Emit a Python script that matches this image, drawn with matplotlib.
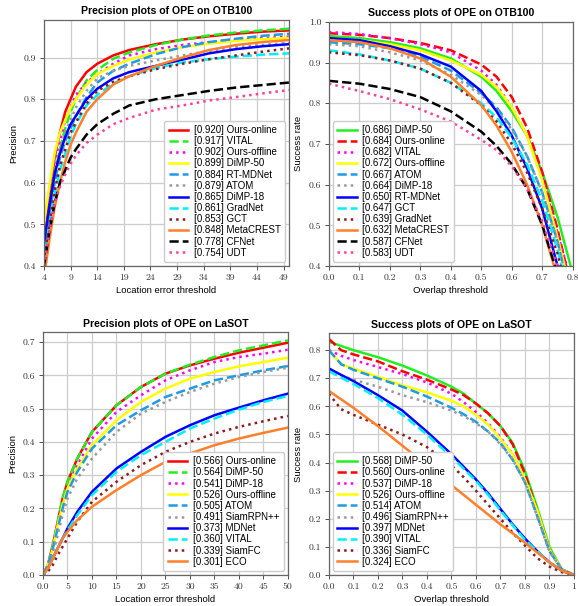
import numpy as np
import matplotlib
matplotlib.use("Agg")
import matplotlib.pyplot as plt
from matplotlib.ticker import FuncFormatter

# ---- OTB100 precision ----
otb_prec_x = [4, 5, 6, 7, 8, 9, 10, 12, 14, 17, 20, 25, 30, 35, 40, 45, 50]
otb_prec_names = ['Ours-online', 'VITAL', 'Ours-offline', 'DiMP-50', 'RT-MDNet', 'ATOM',
                  'DiMP-18', 'GradNet', 'GCT', 'MetaCREST', 'CFNet', 'UDT']
otb_prec_scores = [0.920, 0.917, 0.902, 0.899, 0.884, 0.879, 0.865, 0.861, 0.853, 0.848, 0.778, 0.754]
otb_prec_vals = [
    [0.45, 0.56, 0.66, 0.72, 0.77, 0.80, 0.83, 0.865, 0.885, 0.905, 0.918, 0.932, 0.943, 0.951, 0.957, 0.962, 0.965],
    [0.43, 0.53, 0.62, 0.68, 0.73, 0.77, 0.80, 0.845, 0.870, 0.897, 0.912, 0.930, 0.943, 0.953, 0.960, 0.965, 0.969],
    [0.44, 0.55, 0.64, 0.70, 0.75, 0.78, 0.81, 0.84, 0.860, 0.885, 0.905, 0.920, 0.930, 0.937, 0.943, 0.947, 0.950],
    [0.50, 0.59, 0.67, 0.72, 0.75, 0.78, 0.80, 0.835, 0.860, 0.880, 0.895, 0.912, 0.925, 0.933, 0.940, 0.944, 0.947],
    [0.42, 0.52, 0.60, 0.66, 0.70, 0.73, 0.76, 0.805, 0.840, 0.868, 0.885, 0.908, 0.925, 0.937, 0.945, 0.952, 0.957],
    [0.44, 0.55, 0.63, 0.68, 0.72, 0.75, 0.78, 0.82, 0.850, 0.868, 0.880, 0.893, 0.905, 0.916, 0.925, 0.930, 0.935],
    [0.45, 0.54, 0.62, 0.67, 0.71, 0.74, 0.76, 0.80, 0.825, 0.850, 0.865, 0.880, 0.895, 0.910, 0.920, 0.927, 0.932],
    [0.41, 0.50, 0.57, 0.63, 0.67, 0.71, 0.74, 0.785, 0.810, 0.838, 0.855, 0.875, 0.888, 0.896, 0.902, 0.907, 0.910],
    [0.41, 0.50, 0.58, 0.64, 0.68, 0.72, 0.745, 0.79, 0.820, 0.842, 0.855, 0.872, 0.885, 0.896, 0.905, 0.914, 0.922],
    [0.37, 0.46, 0.54, 0.60, 0.65, 0.69, 0.72, 0.77, 0.800, 0.835, 0.855, 0.880, 0.900, 0.918, 0.930, 0.937, 0.942],
    [0.40, 0.48, 0.55, 0.60, 0.63, 0.66, 0.68, 0.715, 0.740, 0.765, 0.785, 0.800, 0.810, 0.820, 0.828, 0.834, 0.840],
    [0.40, 0.48, 0.55, 0.59, 0.62, 0.645, 0.665, 0.695, 0.715, 0.740, 0.755, 0.775, 0.785, 0.797, 0.805, 0.814, 0.822],
]

# ---- OTB100 success ----
otb_succ_x = [0.0, 0.1, 0.2, 0.3, 0.4, 0.5, 0.55, 0.6, 0.65, 0.7, 0.75, 0.8]
otb_succ_names = ['DiMP-50', 'Ours-online', 'VITAL', 'Ours-offline', 'ATOM', 'DiMP-18',
                  'RT-MDNet', 'GCT', 'GradNet', 'MetaCREST', 'CFNet', 'UDT']
otb_succ_scores = [0.686, 0.684, 0.682, 0.672, 0.667, 0.664, 0.650, 0.647, 0.639, 0.632, 0.587, 0.583]
otb_succ_vals = [
    [0.965, 0.960, 0.950, 0.935, 0.910, 0.865, 0.830, 0.780, 0.720, 0.630, 0.520, 0.380],
    [0.972, 0.968, 0.960, 0.948, 0.930, 0.895, 0.865, 0.815, 0.740, 0.630, 0.490, 0.330],
    [0.975, 0.970, 0.960, 0.945, 0.925, 0.880, 0.845, 0.790, 0.720, 0.620, 0.480, 0.350],
    [0.960, 0.955, 0.945, 0.930, 0.905, 0.870, 0.840, 0.790, 0.720, 0.610, 0.470, 0.320],
    [0.950, 0.945, 0.935, 0.915, 0.880, 0.825, 0.790, 0.740, 0.670, 0.580, 0.460, 0.300],
    [0.945, 0.940, 0.925, 0.905, 0.870, 0.820, 0.785, 0.735, 0.670, 0.580, 0.460, 0.300],
    [0.960, 0.955, 0.940, 0.920, 0.890, 0.830, 0.780, 0.720, 0.640, 0.540, 0.400, 0.250],
    [0.930, 0.920, 0.905, 0.885, 0.850, 0.800, 0.765, 0.715, 0.650, 0.560, 0.440, 0.290],
    [0.925, 0.918, 0.905, 0.885, 0.850, 0.795, 0.755, 0.700, 0.630, 0.540, 0.430, 0.280],
    [0.955, 0.950, 0.935, 0.910, 0.865, 0.795, 0.745, 0.680, 0.600, 0.500, 0.370, 0.230],
    [0.855, 0.848, 0.835, 0.815, 0.780, 0.730, 0.695, 0.650, 0.590, 0.500, 0.380, 0.240],
    [0.848, 0.830, 0.810, 0.785, 0.755, 0.710, 0.685, 0.645, 0.590, 0.510, 0.400, 0.280],
]

# ---- LaSOT precision ----
lasot_prec_x = [0, 1, 2, 3, 4, 5, 7, 10, 15, 20, 25, 30, 35, 40, 45, 50]
lasot_prec_names = ['Ours-online', 'DiMP-50', 'DiMP-18', 'Ours-offline', 'ATOM', 'SiamRPN++',
                    'MDNet', 'VITAL', 'SiamFC', 'ECO']
lasot_prec_scores = [0.566, 0.564, 0.541, 0.526, 0.505, 0.491, 0.373, 0.360, 0.339, 0.301]
lasot_prec_vals = [
    [0.0, 0.03, 0.09, 0.16, 0.23, 0.28, 0.35, 0.43, 0.51, 0.565, 0.605, 0.630, 0.650, 0.668, 0.683, 0.698],
    [0.0, 0.03, 0.09, 0.16, 0.23, 0.28, 0.35, 0.43, 0.51, 0.565, 0.605, 0.632, 0.655, 0.675, 0.690, 0.705],
    [0.0, 0.03, 0.08, 0.15, 0.21, 0.26, 0.33, 0.41, 0.49, 0.540, 0.585, 0.615, 0.640, 0.655, 0.665, 0.677],
    [0.0, 0.03, 0.08, 0.15, 0.21, 0.26, 0.32, 0.39, 0.465, 0.520, 0.560, 0.590, 0.610, 0.627, 0.640, 0.653],
    [0.0, 0.03, 0.08, 0.14, 0.20, 0.25, 0.31, 0.38, 0.45, 0.495, 0.535, 0.560, 0.585, 0.600, 0.615, 0.628],
    [0.0, 0.02, 0.06, 0.12, 0.18, 0.23, 0.29, 0.35, 0.43, 0.485, 0.520, 0.550, 0.575, 0.595, 0.610, 0.623],
    [0.0, 0.02, 0.05, 0.08, 0.11, 0.14, 0.19, 0.25, 0.32, 0.370, 0.415, 0.450, 0.480, 0.503, 0.525, 0.545],
    [0.0, 0.02, 0.05, 0.08, 0.11, 0.135, 0.18, 0.24, 0.31, 0.360, 0.400, 0.440, 0.470, 0.497, 0.520, 0.538],
    [0.0, 0.01, 0.03, 0.06, 0.085, 0.11, 0.16, 0.22, 0.28, 0.330, 0.370, 0.400, 0.425, 0.445, 0.462, 0.478],
    [0.0, 0.02, 0.05, 0.08, 0.11, 0.13, 0.165, 0.205, 0.255, 0.300, 0.340, 0.365, 0.390, 0.410, 0.427, 0.443],
]

# ---- LaSOT success ----
lasot_succ_x = [0.0, 0.05, 0.1, 0.2, 0.3, 0.4, 0.5, 0.55, 0.6, 0.65, 0.7, 0.75, 0.8, 0.85, 0.9, 0.95, 1.0]
lasot_succ_names = ['DiMP-50', 'Ours-online', 'DiMP-18', 'Ours-offline', 'ATOM', 'SiamRPN++',
                    'MDNet', 'VITAL', 'SiamFC', 'ECO']
lasot_succ_scores = [0.568, 0.560, 0.537, 0.526, 0.514, 0.496, 0.397, 0.390, 0.336, 0.324]
lasot_succ_vals = [
    [0.83, 0.815, 0.800, 0.775, 0.745, 0.710, 0.670, 0.645, 0.610, 0.575, 0.530, 0.470, 0.370, 0.240, 0.100, 0.020, 0.0],
    [0.84, 0.800, 0.785, 0.760, 0.725, 0.695, 0.660, 0.640, 0.610, 0.575, 0.530, 0.465, 0.360, 0.230, 0.090, 0.020, 0.0],
    [0.80, 0.780, 0.765, 0.740, 0.715, 0.685, 0.645, 0.615, 0.580, 0.540, 0.490, 0.430, 0.340, 0.210, 0.085, 0.020, 0.0],
    [0.80, 0.750, 0.735, 0.705, 0.675, 0.650, 0.620, 0.600, 0.570, 0.535, 0.485, 0.430, 0.340, 0.230, 0.090, 0.020, 0.0],
    [0.80, 0.750, 0.730, 0.700, 0.670, 0.635, 0.595, 0.572, 0.545, 0.510, 0.470, 0.410, 0.330, 0.210, 0.085, 0.020, 0.0],
    [0.73, 0.710, 0.695, 0.670, 0.640, 0.615, 0.585, 0.565, 0.540, 0.510, 0.465, 0.410, 0.330, 0.210, 0.085, 0.020, 0.0],
    [0.735, 0.712, 0.690, 0.640, 0.585, 0.510, 0.430, 0.385, 0.340, 0.290, 0.235, 0.180, 0.130, 0.085, 0.045, 0.015, 0.0],
    [0.725, 0.702, 0.680, 0.630, 0.570, 0.500, 0.420, 0.378, 0.335, 0.285, 0.230, 0.177, 0.125, 0.085, 0.045, 0.015, 0.0],
    [0.645, 0.590, 0.570, 0.535, 0.500, 0.455, 0.390, 0.348, 0.300, 0.250, 0.200, 0.150, 0.105, 0.060, 0.030, 0.010, 0.0],
    [0.655, 0.625, 0.595, 0.530, 0.460, 0.390, 0.320, 0.285, 0.250, 0.215, 0.180, 0.148, 0.115, 0.080, 0.045, 0.015, 0.0],
]

# styles by legend rank
prec_colors = ['#ff0000', '#22ee22', '#ff00ff', '#ffff00', '#1e9be6', '#999999',
               '#0000ff', '#00eeff', '#8b1a1a', '#ff7f2a', '#000000', '#ff3f9a']
succ_colors = ['#22ee22', '#ff0000'] + prec_colors[2:]
rank_styles = ['-', '--', ':'] * 4

plt.rcParams['font.family'] = ['Liberation Sans', 'DejaVu Sans']
plt.rcParams['axes.formatter.use_mathtext'] = True


def num_fmt(v, pos):
    if abs(v - round(v)) < 1e-9 and abs(v) >= 1:
        return '%d' % round(v)
    return '%.1f' % v


def panel(ax, x, names, scores, vals, colors, title, xlabel, ylabel, loc):
    for i, (n, s, y) in enumerate(zip(names, scores, vals)):
        ax.plot(x, y, color=colors[i], linestyle=rank_styles[i], lw=1.8,
                label='[%.3f] %s' % (s, n))
    ax.set_title(title, fontsize=7.6, fontweight='bold', pad=4)
    ax.set_xlabel(xlabel, fontsize=6.8, labelpad=3)
    ax.set_ylabel(ylabel, fontsize=6.8, labelpad=4)
    ax.grid(True, color='#cccccc', lw=0.9)
    ax.set_axisbelow(True)
    ax.xaxis.set_major_formatter(FuncFormatter(num_fmt))
    ax.yaxis.set_major_formatter(FuncFormatter(num_fmt))
    ax.tick_params(labelsize=7, length=3, width=0.6, colors='#333333', pad=2.5)
    for sp in ax.spines.values():
        sp.set_color('#666666')
        sp.set_linewidth(0.9)
    leg = ax.legend(loc=loc, fontsize=7.0, labelspacing=0.12, handlelength=2.0,
                    handletextpad=0.6, borderpad=0.45, borderaxespad=0.4,
                    framealpha=1.0, edgecolor='#cccccc', fancybox=True)
    return leg


def serif_ticks(ax):
    for lab in ax.get_xticklabels() + ax.get_yticklabels():
        lab.set_fontfamily('cmr10')


fig = plt.figure(figsize=(5.78, 6.06), dpi=100)

ax1 = fig.add_axes([0.076, 0.561, 0.424, 0.406])
panel(ax1, otb_prec_x, otb_prec_names, otb_prec_scores, otb_prec_vals, prec_colors,
      'Precision plots of OPE on OTB100', 'Location error threshold', 'Precision', 'lower right')
ax1.set_xlim(4, 50)
ax1.set_ylim(0.4, 0.99)
ax1.set_xticks(np.arange(4, 50, 5))
ax1.set_yticks(np.arange(0.4, 0.95, 0.1))

ax2 = fig.add_axes([0.569, 0.561, 0.422, 0.403])
panel(ax2, otb_succ_x, otb_succ_names, otb_succ_scores, otb_succ_vals, succ_colors,
      'Success plots of OPE on OTB100', 'Overlap threshold', 'Success rate', 'lower left')
ax2.set_xlim(0, 0.8)
ax2.set_ylim(0.4, 1.0)
ax2.set_xticks(np.arange(0, 0.81, 0.1))
ax2.set_yticks(np.arange(0.4, 1.01, 0.1))

ax3 = fig.add_axes([0.0744, 0.0512, 0.4236, 0.4008])
panel(ax3, lasot_prec_x, lasot_prec_names, lasot_prec_scores, lasot_prec_vals, prec_colors,
      'Precision plots of OPE on LaSOT', 'Location error threshold', 'Precision', 'lower right')
ax3.set_xlim(0, 50)
ax3.set_ylim(0, 0.73)
ax3.set_xticks(np.arange(0, 51, 5))
ax3.set_yticks(np.arange(0, 0.71, 0.1))

ax4 = fig.add_axes([0.569, 0.0512, 0.424, 0.3988])
panel(ax4, lasot_succ_x, lasot_succ_names, lasot_succ_scores, lasot_succ_vals, succ_colors,
      'Success plots of OPE on LaSOT', 'Overlap threshold', 'Success rate', 'lower left')
ax4.set_xlim(0, 1.0)
ax4.set_ylim(0, 0.86)
ax4.set_xticks(np.arange(0, 1.01, 0.1))
ax4.set_yticks(np.arange(0, 0.81, 0.1))

for ax in (ax1, ax2, ax3, ax4):
    serif_ticks(ax)

fig.savefig('out.png', dpi=100)
